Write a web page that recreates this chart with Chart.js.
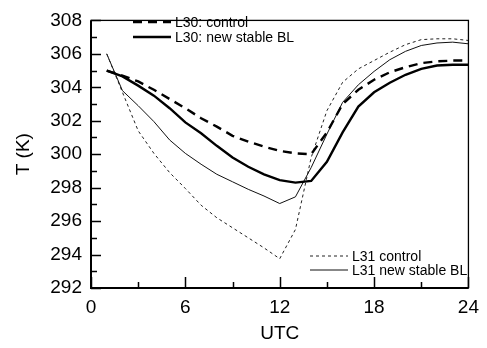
<!DOCTYPE html>
<html>
<head>
<meta charset="utf-8">
<script src="https://cdn.jsdelivr.net/npm/chart.js@4/dist/chart.umd.min.js"></script>
<style>
  html, body { margin: 0; padding: 0; background: #fff; }
  #wrap { width: 487px; height: 348px; }
</style>
</head>
<body>
<div id="wrap"><canvas id="chart"></canvas></div>
<script>
const hours = [1, 2, 3, 4, 5, 6, 7, 8, 9, 10, 11, 12, 13, 14, 15, 16, 17, 18, 19, 20, 21, 22, 23, 24];
const l30Control = [305.0, 304.7, 304.35, 303.85, 303.3, 302.75, 302.15, 301.65, 301.1, 300.75, 300.45, 300.2,
                    300.05, 300.0, 301.3, 303.0, 303.85, 304.45, 304.9, 305.2, 305.45, 305.55, 305.6, 305.6];
const l30New = [305.0, 304.65, 304.1, 303.5, 302.75, 301.9, 301.25, 300.5, 299.8, 299.25, 298.8, 298.45,
                298.3, 298.4, 299.55, 301.3, 302.85, 303.7, 304.27, 304.75, 305.1, 305.3, 305.35, 305.35];
const l31Control = [306.0, 303.7, 301.4, 300.05, 298.9, 297.95, 296.95, 296.2, 295.6, 295.0, 294.4, 293.75,
                    295.5, 299.8, 302.6, 304.3, 305.1, 305.6, 306.1, 306.55, 306.85, 306.9, 306.9, 306.8];
const l31New = [306.0, 303.8, 302.9, 301.95, 300.85, 300.05, 299.4, 298.8, 298.35, 297.9, 297.5, 297.05,
                297.45, 299.2, 301.2, 303.1, 304.15, 304.95, 305.65, 306.15, 306.5, 306.65, 306.7, 306.6];
const yTicks = [292, 294, 296, 298, 300, 302, 304, 306, 308];
const xTicks = [0, 6, 12, 18, 24];

const FONT = "'Liberation Sans', Arial, sans-serif";

function pts(vals) {
  return vals.map((v, i) => ({ x: hours[i], y: v }));
}

// frame + inward ticks
const frameTicks = {
  id: 'frameTicks',
  afterDraw(chart) {
    const { ctx, chartArea: a, scales: { x, y } } = chart;
    ctx.save();
    ctx.strokeStyle = '#000';
    ctx.lineWidth = 1.3;
    ctx.strokeRect(a.left, a.top, a.right - a.left, a.bottom - a.top);
    ctx.lineWidth = 2;
    ctx.beginPath();
    ctx.moveTo(a.left, a.top);
    ctx.lineTo(a.left, a.bottom);
    ctx.lineTo(a.right, a.bottom);
    ctx.stroke();
    ctx.lineWidth = 1.5;
    ctx.beginPath();
    for (let v = 292; v <= 308; v++) {
      const py = Math.round(y.getPixelForValue(v)) + 0.5;
      const len = v % 2 === 0 ? 10 : 6;
      ctx.moveTo(a.left, py);
      ctx.lineTo(a.left + len, py);
    }
    for (let h = 0; h <= 24; h += 3) {
      const px = Math.round(x.getPixelForValue(h)) + 0.5;
      const len = h % 6 === 0 ? 11 : 6;
      ctx.moveTo(px, a.bottom);
      ctx.lineTo(px, a.bottom - len);
    }
    ctx.stroke();
    ctx.restore();
  }
};

// two separate legend groups like the original
const legendSpots = [[133, 22], [133, 37], [310, 256], [310, 270]];
const splitLegend = {
  id: 'splitLegend',
  afterDraw(chart) {
    const { ctx } = chart;
    ctx.save();
    ctx.font = '14px ' + FONT;
    ctx.fillStyle = '#000';
    ctx.textBaseline = 'middle';
    chart.data.datasets.forEach((ds, i) => {
      const [lx, ly] = legendSpots[i];
      ctx.strokeStyle = ds.borderColor;
      ctx.lineWidth = ds.borderWidth;
      ctx.setLineDash(ds.borderDash || []);
      ctx.beginPath();
      ctx.moveTo(lx, ly);
      ctx.lineTo(lx + 38, ly);
      ctx.stroke();
      ctx.setLineDash([]);
      ctx.fillText(ds.label, lx + 42, ly + 1);
    });
    ctx.restore();
  }
};

new Chart(document.getElementById('chart'), {
  type: 'line',
  data: {
    datasets: [
      { label: 'L30: control', data: pts(l30Control), borderColor: '#000', borderWidth: 2.4, borderDash: [9, 6] },
      { label: 'L30: new stable BL', data: pts(l30New), borderColor: '#000', borderWidth: 2.4 },
      { label: 'L31 control', data: pts(l31Control), borderColor: '#222', borderWidth: 1, borderDash: [3, 3] },
      { label: 'L31 new stable BL', data: pts(l31New), borderColor: '#111', borderWidth: 1 }
    ]
  },
  options: {
    responsive: true,
    maintainAspectRatio: false,
    animation: false,
    layout: { padding: { left: 0, right: 14, top: 12, bottom: 0 } },
    elements: { point: { radius: 0 }, line: { tension: 0, fill: false } },
    plugins: { legend: { display: false }, tooltip: { enabled: false } },
    scales: {
      x: {
        type: 'linear',
        min: 0, max: 24,
        afterBuildTicks: s => { s.ticks = xTicks.map(v => ({ value: v })); },
        afterFit: s => { s.height = 60; },
        grid: { display: false, drawTicks: false },
        border: { display: false },
        ticks: { color: '#000', padding: 8, font: { family: FONT, size: 19 } },
        title: { display: true, text: 'UTC', color: '#000', padding: { top: 0, bottom: 3 }, font: { family: FONT, size: 19 } }
      },
      y: {
        min: 292, max: 308,
        afterBuildTicks: s => { s.ticks = yTicks.map(v => ({ value: v })); },
        afterFit: s => { s.width = 91; },
        grid: { display: false, drawTicks: false },
        border: { display: false },
        ticks: { color: '#000', padding: 9, font: { family: FONT, size: 19 } },
        title: { display: true, text: 'T (K)', color: '#000', padding: { top: 12, bottom: 0 }, font: { family: FONT, size: 19 } }
      }
    }
  },
  plugins: [frameTicks, splitLegend]
});
</script>
</body>
</html>
